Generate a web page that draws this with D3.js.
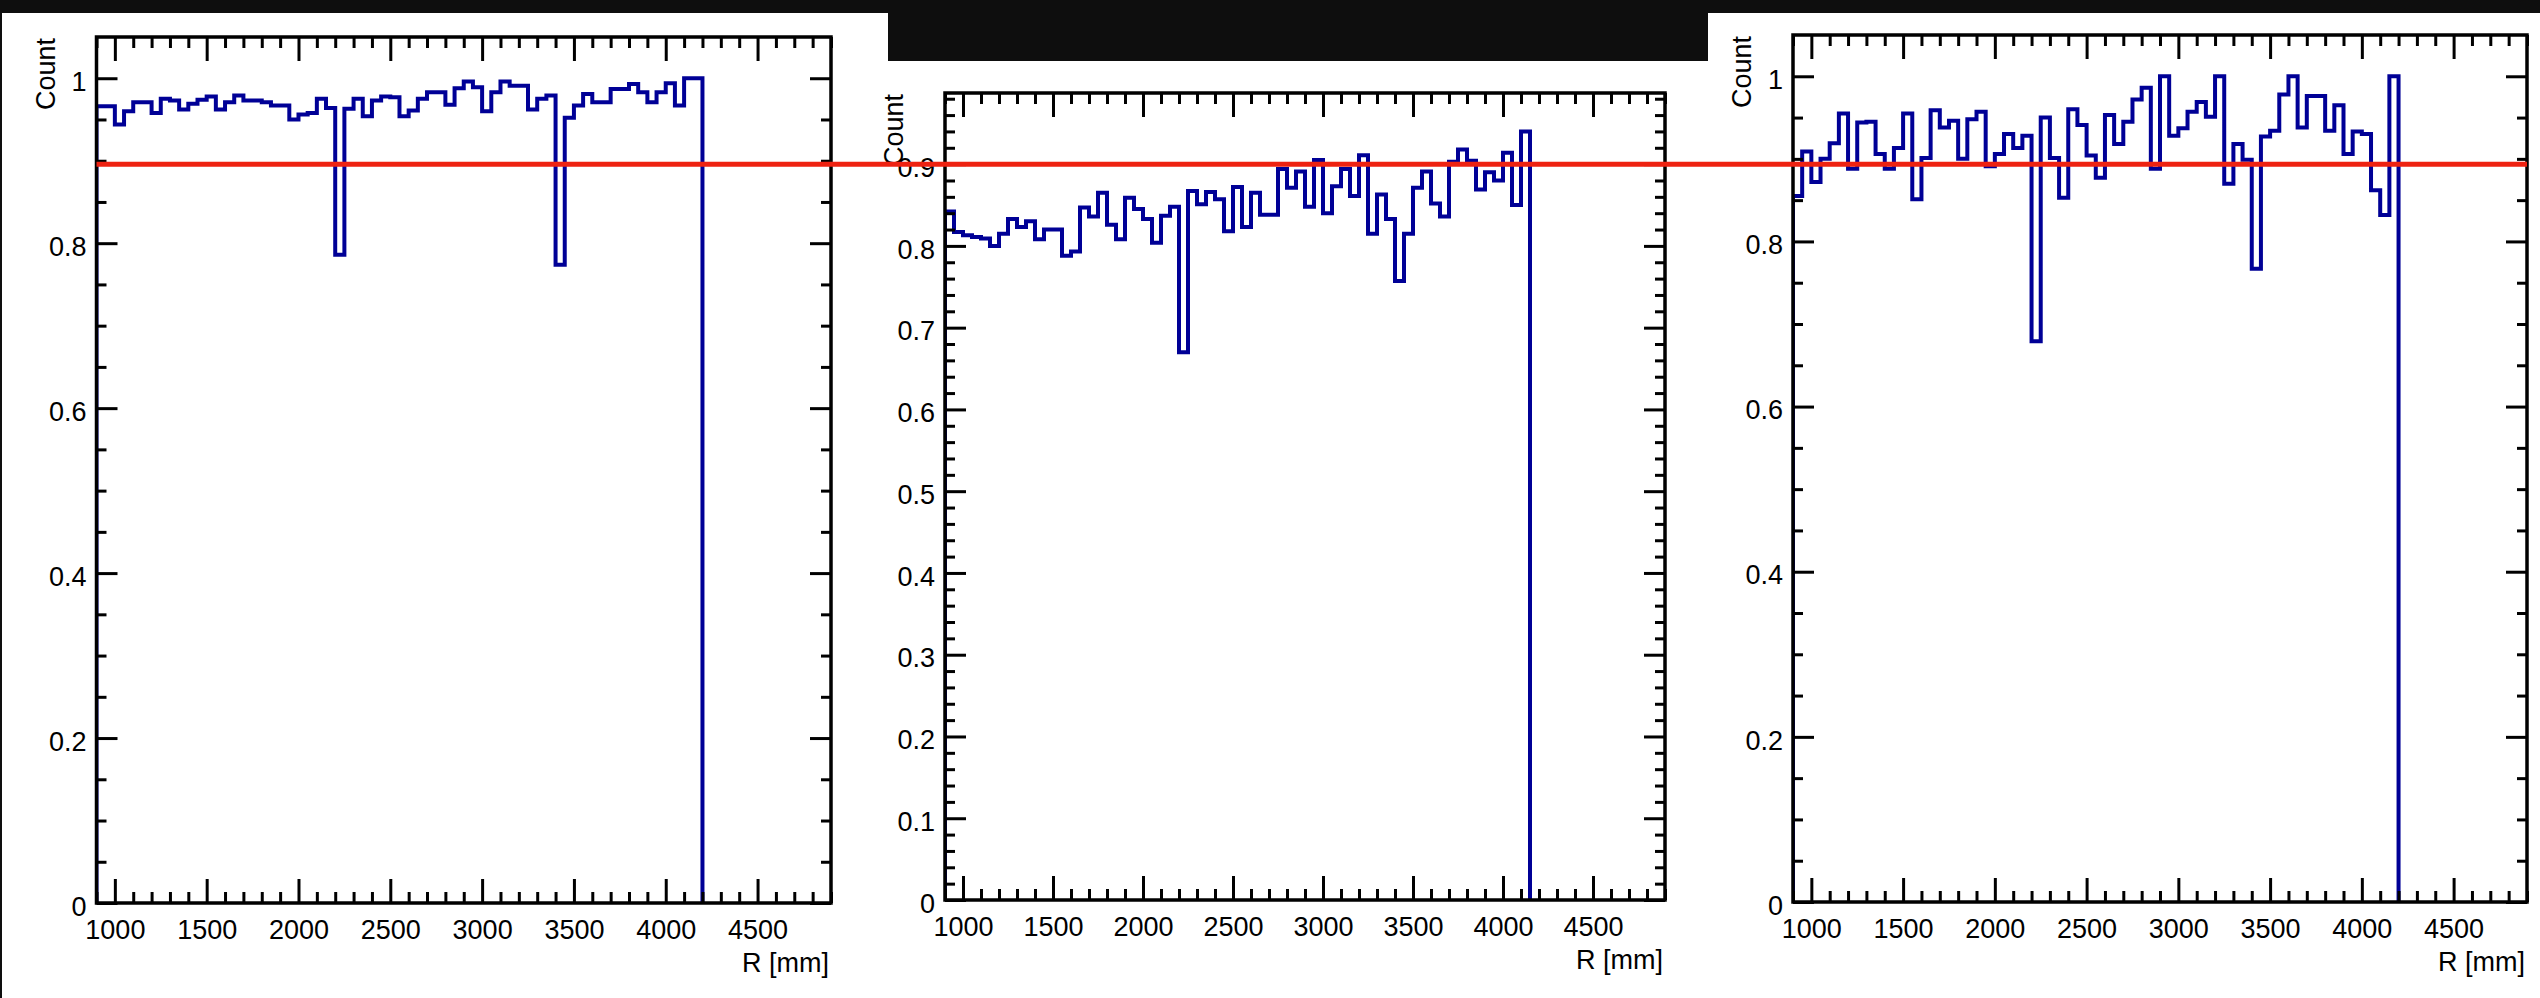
<!DOCTYPE html>
<html>
<head>
<meta charset="utf-8">
<script src="https://cdn.jsdelivr.net/npm/d3@7"></script>
<style>
  html, body { margin: 0; padding: 0; background: #fff; }
  svg { display: block; }
  text { font-family: "Liberation Sans", Arial, Helvetica, sans-serif; fill: #000; }
</style>
</head>
<body>
<svg id="chart" width="2540" height="998"></svg>
<script>
// Binning shared by the three R distributions: 50 mm bins starting at 900 mm
const binLow = 900;
const binWidth = 50;
const rRange = [900, 4900];

// Bin contents, one value per 50 mm bin
const countLeft = [
  0.966, 0.966, 0.944, 0.960, 0.971, 0.971, 0.958, 0.975, 0.973, 0.962,
  0.969, 0.974, 0.978, 0.962, 0.971, 0.979, 0.973, 0.973, 0.971, 0.967,
  0.967, 0.950, 0.956, 0.958, 0.975, 0.964, 0.786, 0.963, 0.975, 0.954,
  0.973, 0.978, 0.977, 0.954, 0.961, 0.975, 0.983, 0.983, 0.968, 0.988,
  0.996, 0.989, 0.960, 0.983, 0.996, 0.991, 0.991, 0.962, 0.975, 0.979,
  0.774, 0.952, 0.967, 0.981, 0.971, 0.971, 0.987, 0.987, 0.993, 0.983,
  0.971, 0.983, 0.994, 0.967, 1.000, 1.000
];
const countMiddle = [
  0.842, 0.817, 0.813, 0.811, 0.809, 0.800, 0.815, 0.833, 0.823, 0.830,
  0.808, 0.820, 0.820, 0.788, 0.793, 0.847, 0.836, 0.865, 0.826, 0.808,
  0.859, 0.845, 0.833, 0.804, 0.837, 0.848, 0.670, 0.867, 0.851, 0.866,
  0.857, 0.818, 0.872, 0.823, 0.865, 0.838, 0.838, 0.894, 0.871, 0.891,
  0.848, 0.905, 0.840, 0.873, 0.894, 0.861, 0.911, 0.815, 0.863, 0.833,
  0.757, 0.815, 0.871, 0.891, 0.852, 0.836, 0.903, 0.918, 0.904, 0.869,
  0.890, 0.880, 0.914, 0.850, 0.940
];
const countRight = [
  0.855, 0.909, 0.872, 0.900, 0.919, 0.955, 0.888, 0.944, 0.945, 0.906,
  0.888, 0.913, 0.955, 0.851, 0.901, 0.959, 0.938, 0.946, 0.900, 0.948,
  0.957, 0.891, 0.906, 0.930, 0.913, 0.928, 0.679, 0.950, 0.901, 0.853,
  0.960, 0.941, 0.904, 0.877, 0.953, 0.918, 0.945, 0.972, 0.986, 0.888,
  1.000, 0.928, 0.937, 0.957, 0.969, 0.951, 1.000, 0.870, 0.918, 0.899,
  0.767, 0.927, 0.934, 0.978, 1.000, 0.938, 0.976, 0.976, 0.934, 0.965,
  0.906, 0.933, 0.930, 0.862, 0.832, 1.000
];

// Axis tick values and titles
const xMajorTicks = [1000, 1500, 2000, 2500, 3000, 3500, 4000, 4500];
const yTicksCoarse = [0, 0.2, 0.4, 0.6, 0.8, 1];
const yTicksFine = [0, 0.1, 0.2, 0.3, 0.4, 0.5, 0.6, 0.7, 0.8, 0.9];
const referenceLevel = 0.9;
const xTitle = "R [mm]";
const yTitle = "Count";

// Page layout
const W = 2540, H = 998;
const FONT = 27;
const panels = [
  { values: countLeft,   frame: { x0: 96.5, x1: 831,  y0: 37, y1: 903 }, yMajor: yTicksCoarse, yMinorStep: 0.05 },
  { values: countMiddle, frame: { x0: 945,  x1: 1665, y0: 93, y1: 900 }, yMajor: yTicksFine,   yMinorStep: 0.02 },
  { values: countRight,  frame: { x0: 1793, x1: 2527, y0: 35, y1: 902 }, yMajor: yTicksCoarse, yMinorStep: 0.05 }
];

const svg = d3.select("#chart");
svg.append("rect").attr("width", W).attr("height", H).attr("fill", "#fff");

const fmtY = d3.format("~g");
const fmtX = d3.format("d");

function styleAxis(g, tickWidth) {
  g.select(".domain").remove();
  g.attr("font-size", FONT).attr("font-family", "'Liberation Sans', Arial, Helvetica, sans-serif");
  g.selectAll(".tick line").attr("stroke", "#000").attr("stroke-width", tickWidth);
  g.selectAll(".tick text").attr("fill", "#000");
}

function drawPanel(p, idx) {
  const f = p.frame;
  const g = svg.append("g").attr("class", "panel-" + idx);

  const x = d3.scaleLinear().domain(rRange).range([f.x0, f.x1]);
  const yMax = d3.max(p.values) * 1.05;
  const y = d3.scaleLinear().domain([0, yMax]).range([f.y1, f.y0]);

  // Histogram outline (step line), clipped to the frame
  const clipId = "clip-" + idx;
  g.append("clipPath").attr("id", clipId)
    .append("rect").attr("x", f.x0).attr("y", f.y0)
    .attr("width", f.x1 - f.x0).attr("height", f.y1 - f.y0);

  const pts = [[binLow, 0]].concat(p.values.map((v, i) => [binLow + i * binWidth, v]));
  const hiEdge = binLow + p.values.length * binWidth;
  pts.push([hiEdge, p.values[p.values.length - 1]], [hiEdge, 0]);

  const line = d3.line()
    .x(d => x(d[0]))
    .y(d => y(d[1]))
    .curve(d3.curveStepAfter);

  g.append("path")
    .attr("clip-path", `url(#${clipId})`)
    .attr("d", line(pts))
    .attr("fill", "none")
    .attr("stroke", "#000096")
    .attr("stroke-width", 4)
    .attr("stroke-linejoin", "miter");

  // Ticks
  const xMinor = d3.range(rRange[0], rRange[1] + 1, 100).filter(v => v % 500 !== 0);
  const yMinor = d3.range(0, Math.floor(yMax / p.yMinorStep + 1e-6) + 1)
    .map(k => +(k * p.yMinorStep).toFixed(4))
    .filter(v => v < yMax - 1e-6 && !p.yMajor.some(m => Math.abs(m - v) < 1e-6));

  const MAJ_X = 24, MIN_X = 11, MAJ_Y = 21, MIN_Y = 10;

  g.append("g").attr("transform", `translate(0,${f.y1})`)
    .call(d3.axisBottom(x).tickValues(xMajorTicks).tickSize(-MAJ_X).tickPadding(17).tickFormat(fmtX))
    .call(s => styleAxis(s, 3));
  g.append("g").attr("transform", `translate(0,${f.y1})`)
    .call(d3.axisBottom(x).tickValues(xMinor).tickSize(-MIN_X).tickFormat(""))
    .call(s => styleAxis(s, 3));
  g.append("g").attr("transform", `translate(0,${f.y0})`)
    .call(d3.axisTop(x).tickValues(xMajorTicks).tickSize(-MAJ_X).tickFormat(""))
    .call(s => styleAxis(s, 3));
  g.append("g").attr("transform", `translate(0,${f.y0})`)
    .call(d3.axisTop(x).tickValues(xMinor).tickSize(-MIN_X).tickFormat(""))
    .call(s => styleAxis(s, 3));

  g.append("g").attr("transform", `translate(${f.x0},0)`)
    .call(d3.axisLeft(y).tickValues(p.yMajor).tickSize(-MAJ_Y).tickPadding(10).tickFormat(fmtY))
    .call(s => styleAxis(s, 3))
    .call(s => s.selectAll(".tick text").attr("dy", "0.45em"));
  g.append("g").attr("transform", `translate(${f.x0},0)`)
    .call(d3.axisLeft(y).tickValues(yMinor).tickSize(-MIN_Y).tickFormat(""))
    .call(s => styleAxis(s, 3));
  g.append("g").attr("transform", `translate(${f.x1},0)`)
    .call(d3.axisRight(y).tickValues(p.yMajor).tickSize(-MAJ_Y).tickFormat(""))
    .call(s => styleAxis(s, 3));
  g.append("g").attr("transform", `translate(${f.x1},0)`)
    .call(d3.axisRight(y).tickValues(yMinor).tickSize(-MIN_Y).tickFormat(""))
    .call(s => styleAxis(s, 3));

  // Frame
  g.append("rect")
    .attr("x", f.x0).attr("y", f.y0)
    .attr("width", f.x1 - f.x0).attr("height", f.y1 - f.y0)
    .attr("fill", "none").attr("stroke", "#000").attr("stroke-width", 3.5);

  // Axis titles
  g.append("text")
    .attr("x", f.x1 - 2).attr("y", f.y1 + 69)
    .attr("text-anchor", "end")
    .attr("font-size", FONT)
    .text(xTitle);
  g.append("text")
    .attr("transform", `translate(${f.x0 - 42},${f.y0 + 1}) rotate(-90)`)
    .attr("text-anchor", "end")
    .attr("font-size", FONT)
    .text(yTitle);

  return { x, y };
}

const scales = panels.map(drawPanel);

// Dark borders around the page
svg.append("rect").attr("x", 0).attr("y", 0).attr("width", W).attr("height", 13).attr("fill", "#0e0e0e");
svg.append("rect").attr("x", 888).attr("y", 0).attr("width", 820).attr("height", 61).attr("fill", "#0e0e0e");
svg.append("rect").attr("x", 0).attr("y", 0).attr("width", 2).attr("height", H).attr("fill", "#0e0e0e");

// Horizontal reference level across all three panels
const yRef = scales[1].y(referenceLevel);
svg.append("line")
  .attr("x1", panels[0].frame.x0).attr("x2", panels[2].frame.x1)
  .attr("y1", yRef).attr("y2", yRef)
  .attr("stroke", "#ee2211").attr("stroke-width", 5);
</script>
</body>
</html>
